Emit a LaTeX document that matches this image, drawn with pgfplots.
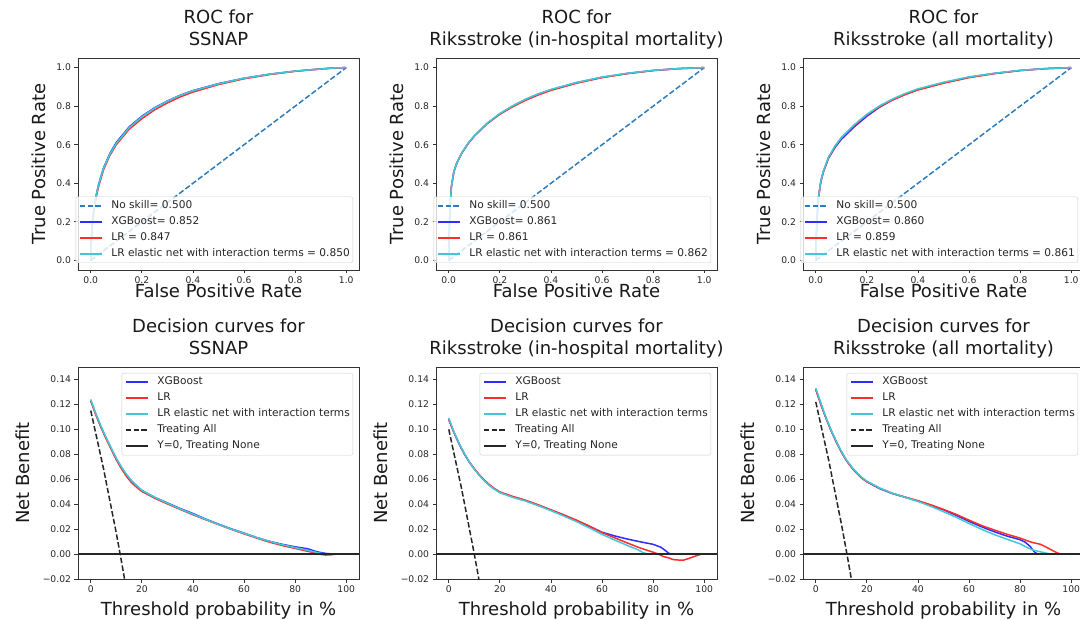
\documentclass[border=0pt]{standalone}
\usepackage{fontspec}
\setmainfont{DejaVu Sans}
\usepackage{pgfplots}
\pgfplotsset{compat=1.18}
\definecolor{cnull}{RGB}{45,125,190}
\definecolor{cxgb}{RGB}{45,45,255}
\definecolor{clr}{RGB}{255,45,45}
\definecolor{cen}{RGB}{64,200,216}
\pgfplotsset{
  base/.style={
    scale only axis, width=281pt, height=212pt, anchor=north west,
    axis line style={black!80, line width=0.8pt},
    tick align=outside, xtick pos=bottom, ytick pos=left,
    major tick length=3.5pt,
    every tick/.style={black!80, line width=0.8pt},
    ticklabel style={font=\fontsize{9.2}{10}\selectfont, text=black!85},
    /pgf/number format/assume math mode=true,
    title style={font=\fontsize{18}{22}\selectfont, align=center, at={(0.5,1)}, anchor=south, inner sep=0pt, yshift=6pt, text=black!90},
    label style={font=\fontsize{18}{20}\selectfont, text=black!90},
    xlabel style={anchor=base, inner sep=0pt},
    ylabel style={anchor=base, inner sep=0pt},
    legend cell align=left,
    legend image code/.code={\draw[#1] (0pt,0pt) -- (22pt,0pt);},
    legend style={draw=black!20, fill=white, fill opacity=0.8, text opacity=1, draw opacity=1,
      rounded corners=2pt, font=\fontsize{10.6}{12}\selectfont, text=black!85,
      inner xsep=3pt, inner ysep=1pt, column sep=9pt, row sep=0pt,
      nodes={inner xsep=0pt, inner ysep=3pt, text height=7.5pt, text depth=2.5pt}},
    every axis plot/.append style={line width=1.5pt, no markers},
  },
  roc/.style={base,
    xmin=-0.05, xmax=1.05, ymin=-0.05, ymax=1.05,
    xtick={0,0.2,0.4,0.6,0.8,1.0}, ytick={0,0.2,0.4,0.6,0.8,1.0},
    xticklabel style={/pgf/number format/.cd, fixed, fixed zerofill, precision=1},
    yticklabel style={/pgf/number format/.cd, fixed, fixed zerofill, precision=1},
    xlabel={False Positive Rate}, ylabel={True Positive Rate},
    xlabel style={at={(axis description cs:0.5,-0.132)}},
    ylabel style={at={(axis description cs:-0.1174,0.5)}},
    legend style={at={(1,0)}, anchor=south east, xshift=-6pt, yshift=7pt},
  },
  dec/.style={base,
    xmin=-5, xmax=105, ymin=-0.02, ymax=0.15,
    xtick={0,20,40,60,80,100},
    ytick={-0.02,0,0.02,0.04,0.06,0.08,0.10,0.12,0.14},
    yticklabels={−0.02,0.00,0.02,0.04,0.06,0.08,0.10,0.12,0.14},
    xlabel={Threshold probability in \%}, ylabel={Net Benefit},
    xlabel style={at={(axis description cs:0.5,-0.170)}},
    ylabel style={at={(axis description cs:-0.171,0.5)}},
    legend style={at={(1,1)}, anchor=north east, xshift=-6pt, yshift=-6pt},
  },
  nullstyle/.style={cnull, dash pattern=on 5.5pt off 2.4pt},
  allstyle/.style={black!85, dash pattern=on 5.5pt off 2.4pt},
  nonestyle/.style={black!85},
}
\newcommand{\ttl}[2]{#1\\\raisebox{0pt}[\height][0pt]{#2}}
\begin{document}
\begin{tikzpicture}
\useasboundingbox (0,0) rectangle (1080pt,-620pt);
% ---------------- ROC SSNAP
\begin{axis}[roc, at={(78pt,-58pt)}, title={\ttl{ROC for}{SSNAP}}]
\addplot[nullstyle] coordinates {(0,0) (1,1)};
\addplot[cxgb] coordinates {(0,0)(0.002,0.10)(0.005,0.17)(0.01,0.24)(0.02,0.33)(0.03,0.39)(0.05,0.48)(0.075,0.555)(0.1,0.612)(0.15,0.692)(0.2,0.748)(0.25,0.792)(0.3,0.827)(0.35,0.857)(0.4,0.881)(0.5,0.917)(0.6,0.945)(0.7,0.966)(0.8,0.982)(0.9,0.993)(0.95,0.998)(1,1)};
\addplot[clr] coordinates {(0,0)(0.002,0.09)(0.005,0.16)(0.01,0.23)(0.02,0.32)(0.03,0.38)(0.05,0.47)(0.075,0.545)(0.1,0.6)(0.15,0.68)(0.2,0.735)(0.25,0.781)(0.3,0.817)(0.35,0.848)(0.4,0.873)(0.5,0.912)(0.6,0.942)(0.7,0.964)(0.8,0.981)(0.9,0.993)(0.95,0.998)(1,1)};
\addplot[cen] coordinates {(0,0)(0.002,0.10)(0.005,0.17)(0.01,0.24)(0.02,0.33)(0.03,0.39)(0.05,0.478)(0.075,0.552)(0.1,0.607)(0.15,0.688)(0.2,0.745)(0.25,0.79)(0.3,0.826)(0.35,0.856)(0.4,0.88)(0.5,0.916)(0.6,0.945)(0.7,0.966)(0.8,0.982)(0.9,0.993)(0.95,0.998)(1,1)};
\legend{No skill= 0.500, XGBoost= 0.852, LR = 0.847, LR elastic net with interaction terms = 0.850}
\end{axis}
% ---------------- ROC in-hospital
\begin{axis}[roc, at={(436pt,-58pt)}, title={\ttl{ROC for}{Riksstroke (in-hospital mortality)}}]
\addplot[nullstyle] coordinates {(0,0) (1,1)};
\addplot[cxgb] coordinates {(0,0)(0.002,0.15)(0.005,0.27)(0.01,0.38)(0.02,0.46)(0.03,0.5)(0.05,0.555)(0.075,0.605)(0.1,0.645)(0.15,0.71)(0.2,0.76)(0.25,0.8)(0.3,0.834)(0.35,0.862)(0.4,0.885)(0.5,0.922)(0.6,0.95)(0.7,0.97)(0.8,0.985)(0.9,0.995)(1,1)};
\addplot[clr] coordinates {(0,0)(0.002,0.15)(0.005,0.27)(0.01,0.38)(0.02,0.46)(0.03,0.5)(0.05,0.555)(0.075,0.605)(0.1,0.645)(0.15,0.709)(0.2,0.758)(0.25,0.797)(0.3,0.83)(0.35,0.858)(0.4,0.882)(0.5,0.919)(0.6,0.948)(0.7,0.969)(0.8,0.985)(0.9,0.995)(1,1)};
\addplot[cen] coordinates {(0,0)(0.002,0.15)(0.005,0.27)(0.01,0.38)(0.02,0.46)(0.03,0.5)(0.05,0.556)(0.075,0.607)(0.1,0.647)(0.15,0.712)(0.2,0.762)(0.25,0.802)(0.3,0.836)(0.35,0.864)(0.4,0.887)(0.5,0.923)(0.6,0.951)(0.7,0.971)(0.8,0.986)(0.9,0.995)(1,1)};
\legend{No skill= 0.500, XGBoost= 0.861, LR = 0.861, LR elastic net with interaction terms = 0.862}
\end{axis}
% ---------------- ROC all mortality
\begin{axis}[roc, at={(803pt,-58pt)}, title={\ttl{ROC for}{Riksstroke (all mortality)}}]
\addplot[nullstyle] coordinates {(0,0) (1,1)};
\addplot[cxgb] coordinates {(0,0)(0.002,0.12)(0.005,0.22)(0.01,0.32)(0.02,0.41)(0.03,0.46)(0.05,0.53)(0.075,0.585)(0.1,0.628)(0.15,0.692)(0.2,0.748)(0.25,0.795)(0.3,0.832)(0.35,0.862)(0.4,0.887)(0.5,0.922)(0.6,0.95)(0.7,0.97)(0.8,0.985)(0.9,0.995)(1,1)};
\addplot[clr] coordinates {(0,0)(0.002,0.12)(0.005,0.22)(0.01,0.32)(0.02,0.41)(0.03,0.462)(0.05,0.533)(0.075,0.59)(0.1,0.635)(0.15,0.7)(0.2,0.755)(0.25,0.798)(0.3,0.832)(0.35,0.86)(0.4,0.884)(0.5,0.919)(0.6,0.948)(0.7,0.969)(0.8,0.985)(0.9,0.995)(1,1)};
\addplot[cen] coordinates {(0,0)(0.002,0.12)(0.005,0.22)(0.01,0.32)(0.02,0.412)(0.03,0.465)(0.05,0.536)(0.075,0.593)(0.1,0.638)(0.15,0.703)(0.2,0.758)(0.25,0.802)(0.3,0.837)(0.35,0.866)(0.4,0.89)(0.5,0.924)(0.6,0.952)(0.7,0.971)(0.8,0.986)(0.9,0.995)(1,1)};
\legend{No skill= 0.500, XGBoost= 0.860, LR = 0.859, LR elastic net with interaction terms = 0.861}
\end{axis}
% ---------------- Decision SSNAP
\begin{axis}[dec, at={(78pt,-367pt)}, title={\ttl{Decision curves for}{SSNAP}}]
\addplot[cxgb] coordinates {(0,0.123)(2,0.112)(4,0.102)(6,0.093)(8,0.0845)(10,0.0765)(12,0.0695)(14,0.0635)(16,0.0585)(18,0.0545)(20,0.051)(25,0.0455)(30,0.041)(35,0.0365)(40,0.0325)(45,0.028)(50,0.024)(55,0.0202)(60,0.0168)(65,0.0132)(70,0.0102)(75,0.0078)(80,0.0058)(85,0.0042)(88,0.0022)(90,0.0012)(92,0.0005)(95,0.0)(98,0.0)};
\addplot[clr] coordinates {(0,0.123)(2,0.1115)(4,0.1015)(6,0.0925)(8,0.084)(10,0.0755)(12,0.0685)(14,0.0622)(16,0.0572)(18,0.0535)(20,0.0502)(25,0.0448)(30,0.0402)(35,0.0358)(40,0.0315)(45,0.0275)(50,0.0236)(55,0.0198)(60,0.0162)(65,0.0128)(70,0.0095)(75,0.0068)(80,0.0045)(85,0.0022)(88,0.0008)(90,-0.0003)(92,-0.0008)(94,-0.0006)(96,0.0)(98,0.0)};
\addplot[cen] coordinates {(0,0.124)(2,0.1125)(4,0.1025)(6,0.0935)(8,0.085)(10,0.0768)(12,0.0698)(14,0.0638)(16,0.0588)(18,0.0548)(20,0.0512)(25,0.0455)(30,0.0408)(35,0.0362)(40,0.032)(45,0.0278)(50,0.0238)(55,0.02)(60,0.0166)(65,0.0132)(70,0.0102)(75,0.0075)(80,0.0052)(85,0.003)(88,0.0015)(90,0.0006)(92,0.0)(99,0.0)};
\addplot[allstyle] coordinates {(0,0.115)(5,0.0684)(10,0.0167)(12,-0.0057)(14,-0.0291)};
\addplot[nonestyle] coordinates {(-5,0)(105,0)};
\legend{XGBoost, LR, LR elastic net with interaction terms, Treating All, {Y=0, Treating None}}
\end{axis}
% ---------------- Decision in-hospital
\begin{axis}[dec, at={(436pt,-367pt)}, title={\ttl{Decision curves for}{Riksstroke (in-hospital mortality)}}]
\addplot[cxgb] coordinates {(0,0.108)(2,0.0975)(4,0.0885)(6,0.0805)(8,0.0738)(10,0.0682)(12,0.0632)(14,0.0588)(16,0.055)(18,0.052)(20,0.0495)(25,0.046)(30,0.043)(35,0.0392)(40,0.0352)(45,0.031)(50,0.0268)(55,0.0222)(60,0.0175)(65,0.0145)(70,0.012)(75,0.0098)(80,0.0078)(83,0.0055)(85,0.0025)(86,0.0008)(87,0.0)(99,0.0)};
\addplot[clr] coordinates {(0,0.108)(2,0.0978)(4,0.0888)(6,0.0808)(8,0.074)(10,0.0685)(12,0.0635)(14,0.0592)(16,0.0555)(18,0.0524)(20,0.0498)(25,0.0462)(30,0.0432)(35,0.0395)(40,0.0355)(45,0.0315)(50,0.0272)(55,0.0225)(60,0.0172)(65,0.013)(70,0.0088)(75,0.0048)(78,0.0028)(80,0.0015)(82,0.0)(84,-0.002)(86,-0.003)(88,-0.0045)(90,-0.0048)(92,-0.0048)(94,-0.0035)(96,-0.002)(99,0.0)};
\addplot[cen] coordinates {(0,0.109)(2,0.098)(4,0.089)(6,0.081)(8,0.074)(10,0.068)(12,0.063)(14,0.0585)(16,0.0548)(18,0.0518)(20,0.0492)(25,0.0455)(30,0.0425)(35,0.0388)(40,0.0348)(45,0.0305)(50,0.026)(55,0.021)(60,0.0158)(65,0.0112)(70,0.0068)(74,0.0035)(76,0.0012)(78,0.0)(99,0.0)};
\addplot[allstyle] coordinates {(0,0.1)(5,0.0526)(10,0.0)(12,-0.0227)};
\addplot[nonestyle] coordinates {(-5,0)(105,0)};
\legend{XGBoost, LR, LR elastic net with interaction terms, Treating All, {Y=0, Treating None}}
\end{axis}
% ---------------- Decision all mortality
\begin{axis}[dec, at={(803pt,-367pt)}, title={\ttl{Decision curves for}{Riksstroke (all mortality)}}]
\addplot[cxgb] coordinates {(0,0.132)(2,0.12)(4,0.109)(6,0.099)(8,0.09)(10,0.082)(12,0.075)(14,0.0695)(16,0.065)(18,0.061)(20,0.058)(25,0.0525)(30,0.0485)(35,0.0455)(40,0.0425)(45,0.039)(50,0.0355)(55,0.031)(60,0.0262)(65,0.0218)(70,0.0178)(75,0.0143)(80,0.0115)(82,0.0095)(84,0.006)(85,0.003)(86,0.001)(87,0.0)(98,0.0)};
\addplot[clr] coordinates {(0,0.132)(2,0.12)(4,0.109)(6,0.099)(8,0.09)(10,0.082)(12,0.075)(14,0.0695)(16,0.065)(18,0.061)(20,0.058)(25,0.0527)(30,0.0487)(35,0.0457)(40,0.0428)(45,0.0395)(50,0.0358)(55,0.0318)(60,0.0272)(65,0.0228)(70,0.0192)(75,0.0158)(80,0.0128)(83,0.0105)(85,0.0092)(88,0.0078)(90,0.0058)(93,0.0025)(95,0.0005)(96,0.0)(98,0.0)};
\addplot[cen] coordinates {(0,0.133)(2,0.121)(4,0.1095)(6,0.0995)(8,0.0905)(10,0.0825)(12,0.0755)(14,0.07)(16,0.0655)(18,0.0615)(20,0.0585)(25,0.053)(30,0.0488)(35,0.0455)(40,0.0422)(45,0.0383)(50,0.034)(55,0.0295)(60,0.0245)(65,0.0198)(70,0.0155)(75,0.0118)(80,0.0082)(83,0.005)(85,0.0032)(88,0.0018)(90,0.0008)(92,0.0)(98,0.0)};
\addplot[allstyle] coordinates {(0,0.122)(5,0.0758)(10,0.0244)(12,0.0023)(14,-0.0209)(15,-0.0329)};
\addplot[nonestyle] coordinates {(-5,0)(105,0)};
\legend{XGBoost, LR, LR elastic net with interaction terms, Treating All, {Y=0, Treating None}}
\end{axis}
\end{tikzpicture}
\end{document}
